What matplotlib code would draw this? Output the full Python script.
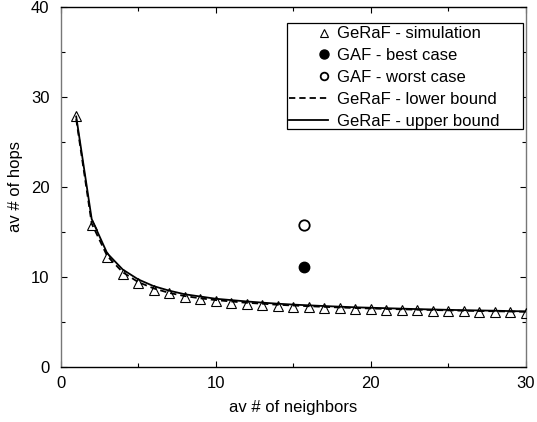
import matplotlib
matplotlib.use("Agg")
import matplotlib.pyplot as plt
from matplotlib.legend_handler import HandlerLine2D
from matplotlib.lines import Line2D
from matplotlib.patches import Rectangle
from matplotlib.ticker import MultipleLocator

# chart data
neighbors = list(range(1, 31))
hops_sim = [27.8, 15.7, 12.2, 10.3, 9.3, 8.5, 8.15, 7.75, 7.55, 7.3,
            7.1, 6.97, 6.86, 6.75, 6.67, 6.6, 6.53, 6.48, 6.44, 6.38,
            6.33, 6.3, 6.26, 6.22, 6.18, 6.15, 6.12, 6.08, 6.04, 6.0]
hops_lower = [27.5, 15.9, 12.3, 10.5, 9.4, 8.7, 8.2, 7.85, 7.6, 7.4,
              7.25, 7.1, 7.0, 6.88, 6.8, 6.72, 6.65, 6.58, 6.52, 6.47,
              6.42, 6.38, 6.33, 6.3, 6.26, 6.22, 6.19, 6.16, 6.13, 6.1]
hops_upper = [27.8, 16.4, 12.6, 10.8, 9.7, 8.95, 8.45, 8.05, 7.8, 7.55,
              7.4, 7.25, 7.12, 7.0, 6.9, 6.82, 6.74, 6.67, 6.6, 6.55,
              6.5, 6.45, 6.4, 6.36, 6.32, 6.28, 6.25, 6.22, 6.18, 6.15]
gaf_x = 15.7
gaf_best = 11.1
gaf_worst = 15.75


class RightMarker(HandlerLine2D):
    """gnuplot style key entry: line sample, marker at its right end"""
    def __init__(self, msize=None, **kw):
        super().__init__(**kw)
        self.msize = msize

    def create_artists(self, legend, orig_handle, xdescent, ydescent,
                       width, height, fontsize, trans):
        y = (height - ydescent) / 2
        line = Line2D([-xdescent, -xdescent + width], [y, y])
        self.update_prop(line, orig_handle, legend)
        line.set_marker('None')
        mark = Line2D([-xdescent + width - 3.0], [y])
        self.update_prop(mark, orig_handle, legend)
        mark.set_linestyle('None')
        if self.msize is not None:
            mark.set_markersize(self.msize)
        line.set_transform(trans)
        mark.set_transform(trans)
        return [line, mark]


plt.rcParams['font.family'] = ['Liberation Sans', 'DejaVu Sans']
plt.rcParams['font.size'] = 12

W, H = 537, 422
fig = plt.figure(figsize=(W / 100, H / 100), dpi=100)
ax = fig.add_axes([60.7 / W, 1 - 366.7 / H, (525.7 - 60.7) / W, (366.7 - 6.7) / H])

ax.plot(neighbors, hops_lower, color='black', linestyle=(0, (3.5, 2.2)), linewidth=1.3,
        label='GeRaF - lower bound', zorder=3)
ax.plot(neighbors, hops_upper, color='black', linestyle='-', linewidth=1.3,
        label='GeRaF - upper bound', zorder=3)
ax.plot(neighbors, hops_sim, linestyle='none', marker='^', markersize=7,
        markerfacecolor='none', markeredgecolor='black', markeredgewidth=0.8,
        label='GeRaF - simulation', zorder=4)
ax.plot([gaf_x], [gaf_best], linestyle='none', marker='o', markersize=7.5,
        color='black', label='GAF - best case', zorder=4)
ax.plot([gaf_x], [gaf_worst], linestyle='none', marker='o', markersize=7.5,
        markerfacecolor='white', markeredgecolor='black', markeredgewidth=1.3,
        label='GAF - worst case', zorder=4)

ax.set_xlim(0, 30)
ax.set_ylim(0, 40)
ax.xaxis.set_major_locator(MultipleLocator(10))
ax.xaxis.set_minor_locator(MultipleLocator(5))
ax.yaxis.set_major_locator(MultipleLocator(10))
ax.yaxis.set_minor_locator(MultipleLocator(5))
ax.tick_params(which='both', direction='in', top=True, right=True, width=0.8)
ax.tick_params(which='major', length=4.5)
ax.tick_params(which='minor', length=3)
ax.tick_params(axis='x', pad=7)
ax.tick_params(axis='y', pad=8)
for side in ['left', 'right']:
    ax.spines[side].set_color('#777777')
for side in ax.spines:
    ax.spines[side].set_linewidth(1.0)

ax.set_xlabel('av # of neighbors', labelpad=6)
ax.set_ylabel('av # of hops', labelpad=6)

# gnuplot-like key box, wider than the text on the right
key_box = Rectangle((287 / W, 1 - 129 / H), 236 / W, 106 / H, transform=fig.transFigure,
                    facecolor='white', edgecolor='black', linewidth=0.9, zorder=4.5)
ax.add_patch(key_box)

# legend order as in the reference
handles, labels = ax.get_legend_handles_labels()
order = [2, 3, 4, 0, 1]
hmap = {handles[0]: HandlerLine2D(), handles[1]: HandlerLine2D(),
        handles[2]: RightMarker(msize=6), handles[3]: RightMarker(msize=6.5),
        handles[4]: RightMarker(msize=5.5)}
leg = ax.legend([handles[i] for i in order], [labels[i] for i in order],
                loc='upper left', bbox_to_anchor=(289 / W, 1 - 26.5 / H),
                bbox_transform=fig.transFigure, numpoints=1, handlelength=2.35,
                handletextpad=0.55, labelspacing=0.41, borderpad=0,
                borderaxespad=0, frameon=False, handler_map=hmap)
leg.set_zorder(5)

fig.savefig('out.png', dpi=100)
